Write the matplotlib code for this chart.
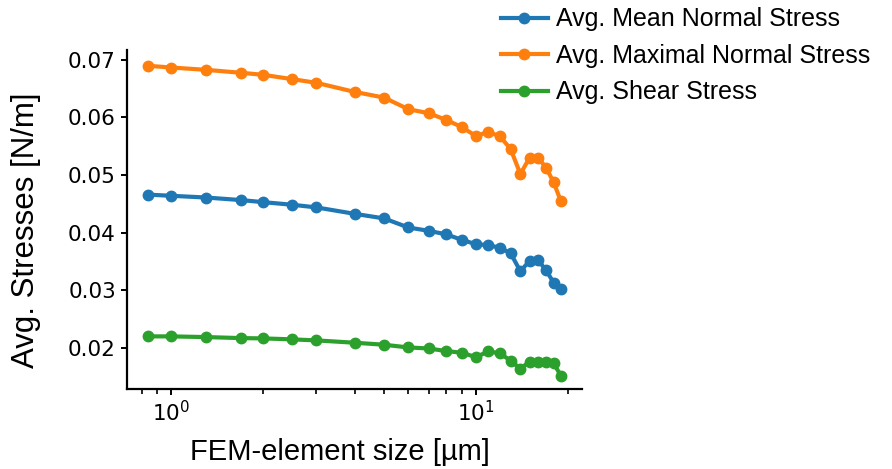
import matplotlib
matplotlib.use("Agg")
import matplotlib.pyplot as plt

# element sizes [um] and averaged stresses [N/m]
sizes = [0.84, 1.0, 1.3, 1.7, 2.0, 2.5, 3.0, 4.0, 5.0, 6.0, 7.0, 8.0, 9.0,
         10.0, 11.0, 12.0, 13.0, 14.0, 15.0, 16.0, 17.0, 18.0, 19.0]
mean_normal = [0.0466, 0.0464, 0.0461, 0.04565, 0.0453, 0.04484, 0.04438,
               0.04327, 0.04247, 0.0409, 0.04032, 0.0397, 0.03875, 0.0380,
               0.03783, 0.03737, 0.03643, 0.0333, 0.0351, 0.0352, 0.03348,
               0.0313, 0.0302]
max_normal = [0.06896, 0.06866, 0.06826, 0.06774, 0.0674, 0.06664, 0.0660,
              0.06443, 0.06344, 0.06143, 0.06073, 0.05957, 0.0583, 0.05678,
              0.05748, 0.0567, 0.05452, 0.05017, 0.05301, 0.0530, 0.05127,
              0.04873, 0.04548]
shear = [0.0220, 0.0220, 0.02188, 0.0217, 0.02165, 0.02148, 0.0213, 0.0209,
         0.02055, 0.02008, 0.0199, 0.01945, 0.01916, 0.0184, 0.0194, 0.01904,
         0.0178, 0.0164, 0.0176, 0.01756, 0.01756, 0.0173, 0.0152]

series = [
    ("Avg. Mean Normal Stress", mean_normal, "#1f77b4"),
    ("Avg. Maximal Normal Stress", max_normal, "#ff7f0e"),
    ("Avg. Shear Stress", shear, "#2ca02c"),
]

LABEL_FONT = "Liberation Sans"

fig = plt.figure(figsize=(8.92, 4.69), dpi=100)
ax = fig.add_axes([0.1424, 0.1706, 0.5101, 0.7228])

for name, vals, c in series:
    ax.plot(sizes, vals, "o-", color=c, lw=3, ms=7.5, label=name)

ax.set_xscale("log")
ax.set_xlim(0.717, 22.3)
ax.set_ylim(0.01287, 0.0717)
ax.set_yticks([0.02, 0.03, 0.04, 0.05, 0.06, 0.07])

for s in ("top", "right"):
    ax.spines[s].set_visible(False)
for s in ("left", "bottom"):
    ax.spines[s].set_linewidth(1.6)
ax.tick_params(axis="both", which="major", labelsize=15.5, width=1.4,
               length=4.5)
ax.tick_params(axis="x", which="minor", width=1.2, length=3.5)

ax.set_xlabel("FEM-element size [µm]", fontsize=21, family=LABEL_FONT)
ax.set_ylabel("Avg. Stresses [N/m]", fontsize=22.5, family=LABEL_FONT)
ax.xaxis.set_label_coords(0.468, -0.145)
ax.yaxis.set_label_coords(-0.19, 0.469)

fig.legend(loc="upper left", bbox_to_anchor=(0.536, 1.032), frameon=False,
           prop={"family": LABEL_FONT, "size": 18}, handlelength=1.9,
           handletextpad=0.3, labelspacing=0.5)

fig.savefig("out.png", dpi=100)
